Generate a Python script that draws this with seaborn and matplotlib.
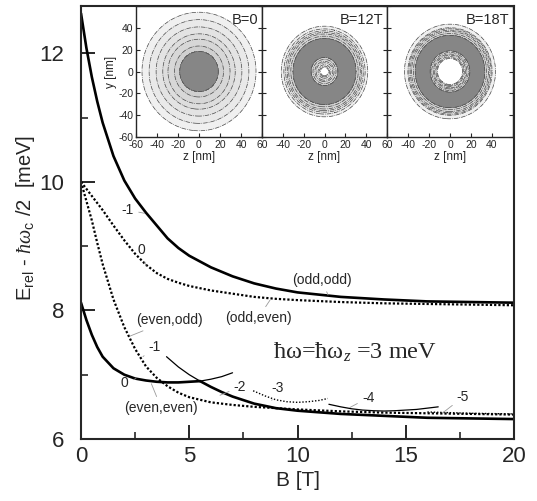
import numpy as np
import pandas as pd
import matplotlib
matplotlib.use("Agg")
import matplotlib.pyplot as plt
import seaborn as sns

# ---------------- data ----------------
B_grid = [0, 0.25, 0.5, 0.75, 1, 1.5, 2, 2.5, 3, 3.5, 4, 4.5, 5, 6, 7, 8, 9, 10, 12, 14, 16, 18, 20]
E_odd_odd = [12.62, 12.08, 11.63, 11.25, 10.92, 10.40, 10.02, 9.74, 9.52, 9.32, 9.12, 8.97,
             8.85, 8.67, 8.53, 8.42, 8.34, 8.28, 8.21, 8.17, 8.14, 8.13, 8.12]
E_odd_even = [10.0, 9.89, 9.78, 9.67, 9.56, 9.32, 9.09, 8.88, 8.71, 8.58, 8.49, 8.43,
              8.38, 8.31, 8.26, 8.21, 8.18, 8.16, 8.13, 8.11, 8.10, 8.09, 8.08]
E_even_odd = [10.0, 9.70, 9.40, 9.05, 8.72, 8.17, 7.74, 7.40, 7.13, 6.95, 6.82, 6.72,
              6.65, 6.57, 6.53, 6.50, 6.48, 6.46, 6.43, 6.41, 6.40, 6.39, 6.38]

B_m0 = [0, 0.25, 0.5, 0.75, 1, 1.5, 2, 2.5, 3, 3.5, 4, 4.5, 5, 5.5, 6, 6.5, 7]
E_m0 = [8.12, 7.85, 7.62, 7.43, 7.28, 7.10, 7.00, 6.94, 6.91, 6.89, 6.88, 6.88, 6.89, 6.90, 6.93, 6.97, 7.03]
B_m2 = [3.95, 4.5, 5, 5.5, 6, 6.5, 7, 8, 9, 10, 12, 14, 16, 18, 20]
E_m2 = [7.28, 7.12, 7.00, 6.90, 6.81, 6.73, 6.66, 6.55, 6.48, 6.44, 6.39, 6.36, 6.33, 6.32, 6.31]
B_crossing = 5.5

B_m3 = [7.95, 8.5, 9, 9.5, 10, 10.5, 11, 11.4]
E_m3 = [6.75, 6.67, 6.61, 6.58, 6.57, 6.58, 6.60, 6.63]
B_m4 = [11.45, 12, 12.5, 13, 13.5, 14, 14.5, 15, 15.5, 16, 16.5]
E_m4 = [6.54, 6.50, 6.47, 6.45, 6.44, 6.435, 6.44, 6.45, 6.46, 6.48, 6.50]
B_m5 = [16.0, 17, 18, 19, 20]
E_m5 = [6.42, 6.41, 6.40, 6.395, 6.39]

# curve labels: text, label position, point on curve
curve_labels = [
    ("-1", (2.17, 9.56), (2.94, 9.51)),
    ("0", (2.79, 8.94), (3.0, 8.69)),
    ("(odd,odd)", (11.12, 8.47), (11.41, 8.24)),
    ("(odd,even)", (8.18, 7.88), (8.73, 8.16)),
    ("(even,odd)", (4.10, 7.85), (2.26, 7.60)),
    ("-1", (3.40, 7.43), (2.86, 7.28)),
    ("0", (2.02, 6.87), (2.54, 6.94)),
    ("(even,even)", (3.71, 6.48), (3.25, 6.86)),
    ("-2", (7.34, 6.81), (6.42, 6.68)),
    ("-3", (9.1, 6.79), (8.81, 6.60)),
    ("-4", (13.26, 6.64), (12.42, 6.49)),
    ("-5", (17.64, 6.65), (16.72, 6.41)),
]

# inset: radial density profiles (relative) for the three fields
r_nm = {
    "B=0":   [0, 10, 18, 25, 30, 35, 40, 45, 50, 54, 60, 90],
    "B=12T": [0, 4, 8, 13, 18, 23, 28, 31, 35, 38, 42, 90],
    "B=18T": [0, 8, 12, 15, 19, 24, 29, 33, 36, 40, 44, 90],
}
density = {
    "B=0":   [1.0, 0.88, 0.66, 0.45, 0.34, 0.24, 0.16, 0.10, 0.06, 0.031, 0.01, 0.0],
    "B=12T": [0.0, 0.03, 0.25, 0.66, 0.95, 1.0, 0.8, 0.6, 0.3, 0.1, 0.02, 0.0],
    "B=18T": [0.0, 0.0, 0.03, 0.25, 0.66, 1.0, 0.9, 0.66, 0.4, 0.08, 0.02, 0.0],
}
inset_levels = [0.03, 0.08, 0.15, 0.25, 0.35, 0.5, 0.65, 1.01]
inset_colors = ["#f0f0f0", "#e9e9e9", "#e3e3e3", "#dddddd", "#d7d7d7", "#d0d0d0", "#868686"]

# ---------------- styling ----------------
sns.set_style("ticks")
plt.rcParams["font.family"] = ["Liberation Sans", "DejaVu Sans"]
plt.rcParams["mathtext.fontset"] = "custom"
plt.rcParams["mathtext.rm"] = "Liberation Sans"
plt.rcParams["mathtext.sf"] = "Liberation Sans"
plt.rcParams["mathtext.it"] = "Liberation Serif:italic"
plt.rcParams["mathtext.bf"] = "Liberation Sans:bold"

fig = plt.figure(figsize=(5.37, 5.01), dpi=100)
ax = fig.add_axes([81 / 537, 1 - 439 / 501, 433 / 537, 433 / 501])

bold = 1.9
thin = 0.9
dot = (0, (1.0, 0.9))

def line(x, y, **kw):
    df = pd.DataFrame({"B": x, "E": y})
    sns.lineplot(data=df, x="B", y="E", ax=ax, estimator=None, sort=False,
                 legend=False, color="black", **kw)

line(B_grid, E_odd_odd, linewidth=bold)
line(B_grid, E_odd_even, linewidth=1.6, linestyle=dot)
line(B_grid, E_even_odd, linewidth=1.6, linestyle=dot)

m0 = pd.DataFrame({"B": B_m0, "E": E_m0})
m2 = pd.DataFrame({"B": B_m2, "E": E_m2})
line(m0.B[m0.B <= B_crossing], m0.E[m0.B <= B_crossing], linewidth=bold)
line(m0.B[m0.B >= B_crossing], m0.E[m0.B >= B_crossing], linewidth=thin)
line(m2.B[m2.B <= B_crossing], m2.E[m2.B <= B_crossing], linewidth=thin)
line(m2.B[m2.B >= B_crossing], m2.E[m2.B >= B_crossing], linewidth=bold)

line(B_m3, E_m3, linewidth=1.0, linestyle=(0, (1.0, 1.3)))
line(B_m4, E_m4, linewidth=thin)
line(B_m5, E_m5, linewidth=1.0, linestyle=(0, (1.0, 1.3)))

for txt, pos, pt in curve_labels:
    ax.annotate(txt, xy=pt, xytext=pos, ha="center", va="center", fontsize=10,
                arrowprops=dict(arrowstyle="-", color="#9a9a9a", lw=0.6,
                                shrinkA=1, shrinkB=0))

ax.text(8.87, 7.35, "ħω=ħω$_{z}$ =3 meV", family=["Liberation Serif", "DejaVu Serif"],
        fontsize=17.5, ha="left", va="center")

ax.set_xlim(0, 20)
ax.set_ylim(6, 6 + 433 / 64.3)
ax.set_xticks([0, 5, 10, 15, 20])
ax.set_xticks([2.5, 7.5, 12.5, 17.5], minor=True)
ax.set_yticks([6, 8, 10, 12])
ax.set_yticks([7, 9, 11], minor=True)
ax.tick_params(which="major", direction="in", length=10, width=1.4, labelsize=16)
ax.tick_params(which="minor", direction="in", length=5, width=1.2)
ax.tick_params(axis="x", which="major", pad=5)
ax.tick_params(axis="y", which="major", pad=12)
ax.set_xlabel("")
ax.set_ylabel("")
for s in ax.spines.values():
    s.set_linewidth(1.5)
    s.set_visible(True)

fig.text(298 / 537, 1 - 481 / 501, "B [T]", ha="center", va="center", fontsize=15)
fig.text(26 / 537, 1 - 218 / 501,
         r"E$_{\mathrm{rel}}$ - $\hbar\omega_{\mathrm{c}}$ /2  [meV]",
         rotation=90, ha="center", va="center", fontsize=14.5)

# ---------------- inset ----------------
panel_left = [136, 262, 387]
panel_w = [126, 125, 126]
all_ticks = [-60, -40, -20, 0, 20, 40, 60]
xtick_sets = [[-60, -40, -20, 0, 20, 40, 60], [-40, -20, 0, 20, 40, 60], [-40, -20, 0, 20, 40]]
g = np.linspace(-60, 60, 401)
X, Y = np.meshgrid(g, g)
R = np.sqrt(X ** 2 + Y ** 2)
for i, key in enumerate(["B=0", "B=12T", "B=18T"]):
    iax = fig.add_axes([panel_left[i] / 537, 1 - 137 / 501, panel_w[i] / 537, 131 / 501])
    D = np.interp(R, r_nm[key], density[key])
    iax.contourf(X, Y, D, levels=inset_levels, colors=inset_colors)
    iax.contour(X, Y, D, levels=inset_levels[:-1], colors="#4a4a4a",
                linewidths=0.5, linestyles="dashdot")
    iax.set_facecolor("white")
    iax.set_xlim(-60, 60)
    iax.set_ylim(-60, 60)
    iax.set_xticks(all_ticks)
    iax.set_xticklabels([str(v) if v in xtick_sets[i] else "" for v in all_ticks])
    iax.set_yticks(all_ticks)
    if i == 0:
        iax.set_yticklabels(["-60", "-40", "-20", "0", "20", "40", ""])
        iax.set_ylabel("y [nm]", fontsize=8.5, labelpad=1)
    else:
        iax.set_yticklabels([])
    iax.tick_params(direction="in", length=3, width=0.8, labelsize=7.5, pad=2,
                    left=True, right=True, top=False, bottom=True)
    iax.set_xlabel("z [nm]", fontsize=8.5, labelpad=1)
    iax.text(0.97, 0.95, key, transform=iax.transAxes, ha="right", va="top", fontsize=10.5)
    for s in iax.spines.values():
        s.set_linewidth(1.0)

fig.savefig("out.png", dpi=100)
